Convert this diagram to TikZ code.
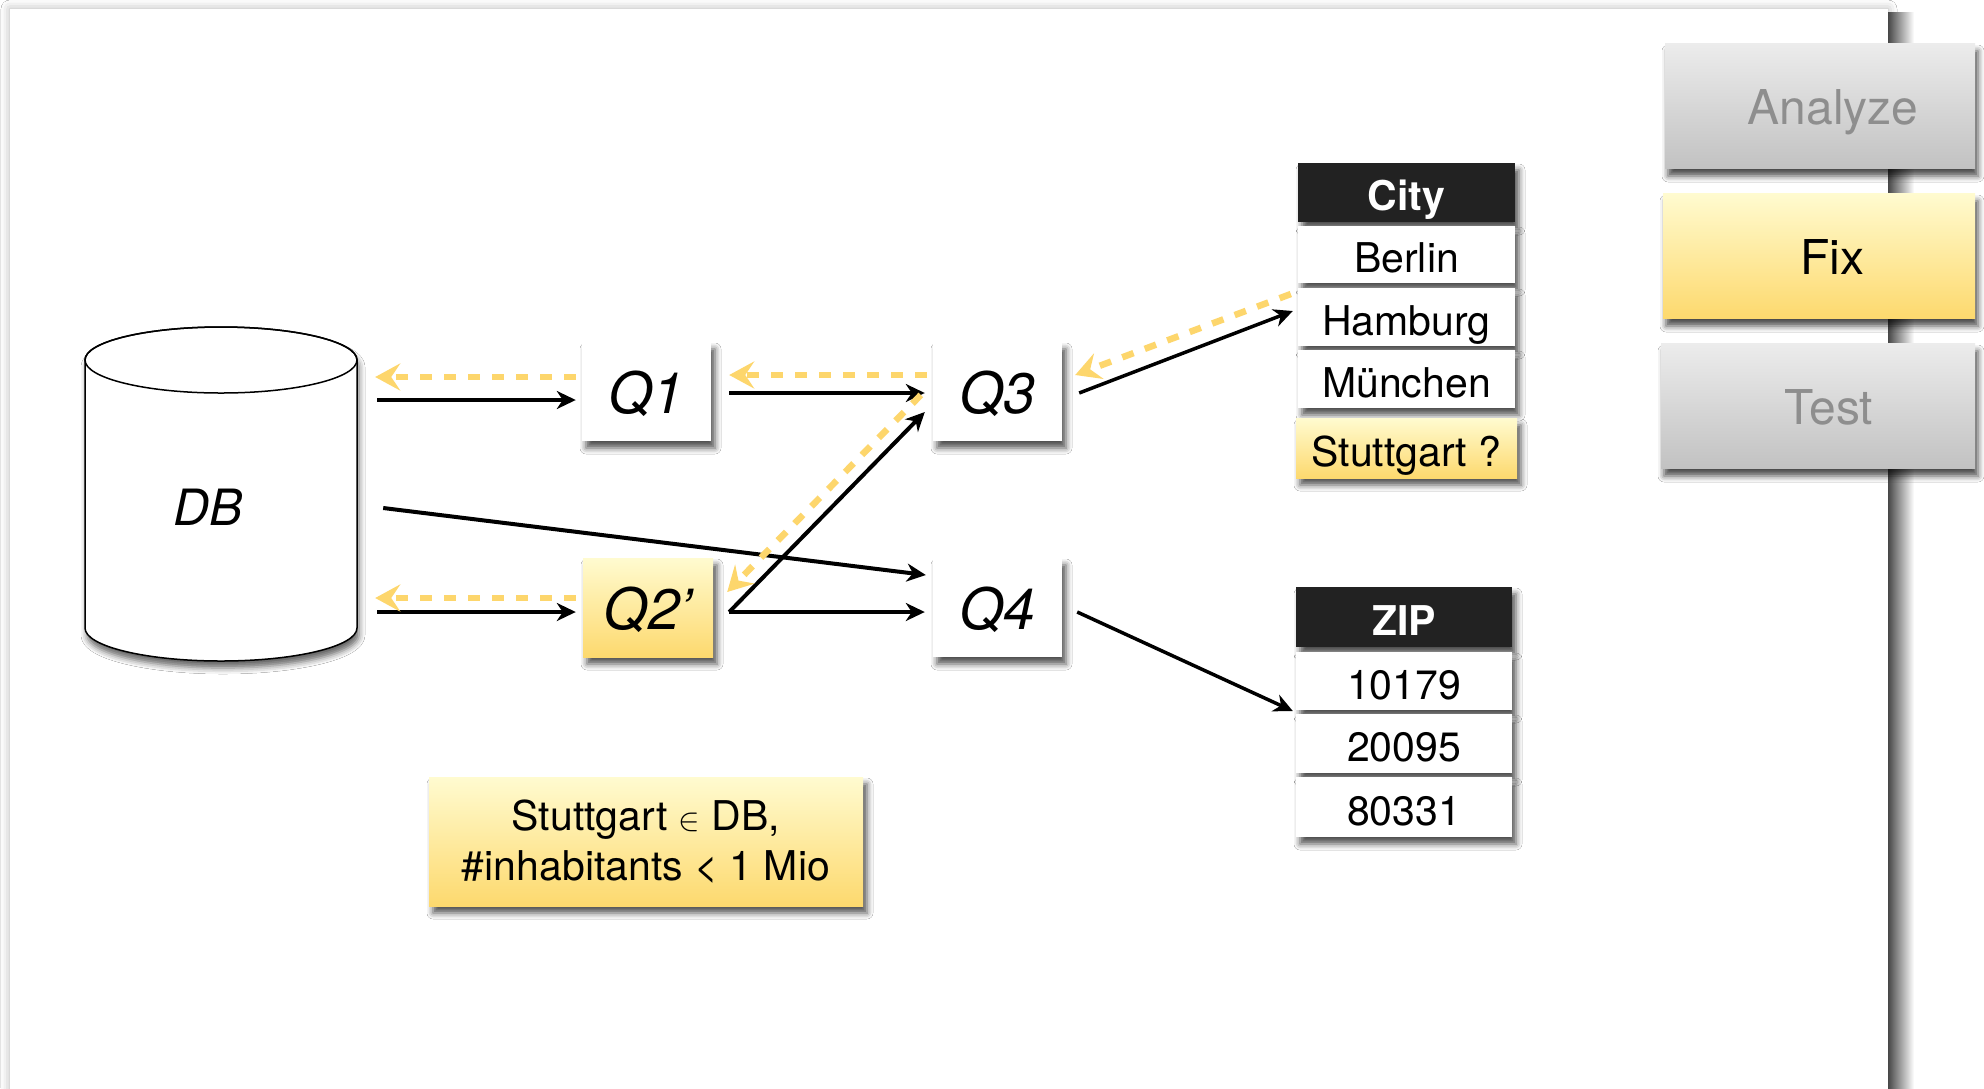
\documentclass[tikz,border=0pt]{standalone}
\usepackage{fontspec}
\setmainfont{TeX Gyre Heros}
\usetikzlibrary{arrows.meta,shadows.blur}
\definecolor{ydash}{RGB}{253,214,108}
\definecolor{ytop}{RGB}{255,251,208}
\definecolor{ybot}{RGB}{253,217,110}
\definecolor{gtop}{RGB}{236,236,236}
\definecolor{gbot}{RGB}{194,194,194}
\definecolor{hdr}{RGB}{34,34,34}
\definecolor{btntext}{RGB}{142,142,142}
\begin{document}
\begin{tikzpicture}[x=1pt,y=-1pt,
  shad/.style={blur shadow={shadow xshift=4pt, shadow yshift=-7pt, shadow blur radius=6pt, shadow opacity=68}},
  qbox/.style={shad, fill=white, minimum width=129pt, minimum height=99pt, inner sep=0pt,
    text height=44pt, text depth=0pt, font=\fontsize{57}{62}\selectfont\itshape},
  ybox/.style={top color=ytop, bottom color=ybot},
  cell/.style={shad, fill=white, minimum width=217pt, inner sep=0pt,
    text height=36pt, text depth=0pt, font=\fontsize{41}{46}\selectfont},
  hdrcell/.style={cell, fill=hdr, text=white, font=\fontsize{41}{46}\selectfont\bfseries},
  btn/.style={blur shadow={shadow xshift=3pt, shadow yshift=-8pt, shadow blur radius=6pt, shadow opacity=70},
    top color=gtop, bottom color=gbot, minimum width=310pt, minimum height=125pt, inner sep=0pt,
    text=btntext, text height=37pt, text depth=0pt, font=\fontsize{48}{52}\selectfont},
  arr/.style={draw=black, line width=4pt, -{Stealth[length=19pt,width=18pt,inset=6pt]}},
  yarr/.style={draw=ydash, line width=6.5pt, dash pattern=on 12pt off 12pt,
    -{Stealth[length=25pt,width=27pt,inset=9pt]}},
]
\useasboundingbox (0,0) rectangle (1984,1088);
\fill[white] (0,0) rectangle (1984,1088);
% panel
\fill[white, blur shadow={shadow xshift=0pt, shadow yshift=0pt, shadow blur radius=9pt, shadow opacity=30}]
  (10,9) rectangle (1888,1130);
\shade[left color=black!72, right color=white] (1888,12) rectangle (1914,1088);

% buttons
\node[btn] (analyze) at (1820,105.5) {\hspace*{26pt}Analyze};
\node[btn, minimum width=312pt, top color=ytop, bottom color=ybot, text=black] (fix) at (1819,255.5) {\hspace*{26pt}Fix};
\node[btn, minimum width=314pt] (test) at (1818,405.5) {\hspace*{22pt}Test};

% DB cylinder
\path[fill=white, draw=black, line width=1.5pt,
  blur shadow={shadow xshift=2pt, shadow yshift=-7pt, shadow blur radius=6pt, shadow opacity=60}]
  (85,360) -- (85,628) arc[start angle=180, end angle=0, x radius=136, y radius=33]
  -- (357,360) arc[start angle=0, end angle=-180, x radius=136, y radius=33] -- cycle;
\draw[line width=1.5pt] (221,360) ellipse [x radius=136, y radius=33];
\node[inner sep=0pt, minimum width=272pt, minimum height=334pt] (db) at (221,494) {};
\node[font=\fontsize{50}{54}\selectfont\itshape] (dblabel) at (208,507) {DB};

% queries
\node[qbox] (q1) at (646.5,391.5) {Q1};
\node[qbox, ybox, minimum width=130pt] (q2) at (648,607.5) {Q2’};
\node[qbox] (q3) at (997.5,391.5) {Q3};
\node[qbox] (q4) at (997.5,607.5) {Q4};

% City table
\node[hdrcell, minimum height=59pt] (city) at (1406.5,192.5) {City};
\node[cell, minimum height=57pt] (berlin) at (1406.5,254.5) {Berlin};
\node[cell, minimum height=58pt] (hamburg) at (1406.5,317) {Hamburg};
\node[cell, minimum height=58pt] (muenchen) at (1406.5,379) {München};
\node[cell, ybox, minimum width=221pt, minimum height=60pt] (stuttgart) at (1406.5,448) {Stuttgart ?};

% ZIP table
\node[hdrcell, minimum width=216pt, minimum height=60pt] (zip) at (1404,617) {ZIP};
\node[cell, minimum width=216pt, minimum height=58pt] (z1) at (1404,681) {10179};
\node[cell, minimum width=216pt, minimum height=59pt] (z2) at (1404,743.5) {20095};
\node[cell, minimum width=216pt, minimum height=60pt] (z3) at (1404,807) {80331};

% note
\node[shad, ybox, minimum width=434pt, minimum height=129pt, inner sep=0pt, align=center,
  font=\fontsize{41}{50}\selectfont] (note) at (646,841.5)
  {Stuttgart \scalebox{1.3}{\ensuremath{\in}} DB,\\\#inhabitants < 1 Mio};

% black connectors
\draw[arr] ([shift={(20,-94)}]db.east) -- ([shift={(-6,8.5)}]q1.west);
\draw[arr] ([shift={(20,118)}]db.east) -- ([shift={(-7,4.5)}]q2.west);
\draw[arr] ([shift={(26,14)}]db.east) -- ([shift={(-7,-32.5)}]q4.west);
\draw[arr] ([shift={(18,1.5)}]q1.east) -- ([shift={(-8,1.5)}]q3.west);
\draw[arr] ([shift={(16,4.5)}]q2.east) -- ([shift={(-8,20.5)}]q3.west);
\draw[arr] ([shift={(16,4.5)}]q2.east) -- ([shift={(-8,4.5)}]q4.west);
\draw[arr, line width=3.5pt] ([shift={(17,1.5)}]q3.east) -- ([shift={(-5,-6)}]hamburg.west);
\draw[arr, line width=3.5pt] ([shift={(15,4.5)}]q4.east) -- ([shift={(-3,30)}]z1.west);

% yellow dashed connectors
\draw[yarr] ([shift={(-6,-14.5)}]q1.west) -- ([shift={(18,-117)}]db.east);
\draw[yarr] ([shift={(-7,-9.5)}]q2.west) -- ([shift={(18,104)}]db.east);
\draw[yarr] ([shift={(-6,-16.5)}]q3.west) -- ([shift={(18,-16.5)}]q1.east);
\draw[yarr] ([shift={(-12,3.5)}]q3.west) -- ([shift={(14,-15.5)}]q2.east);
\draw[yarr] ([shift={(-7,-23)}]hamburg.west) -- ([shift={(13,-16.5)}]q3.east);
\end{tikzpicture}
\end{document}
